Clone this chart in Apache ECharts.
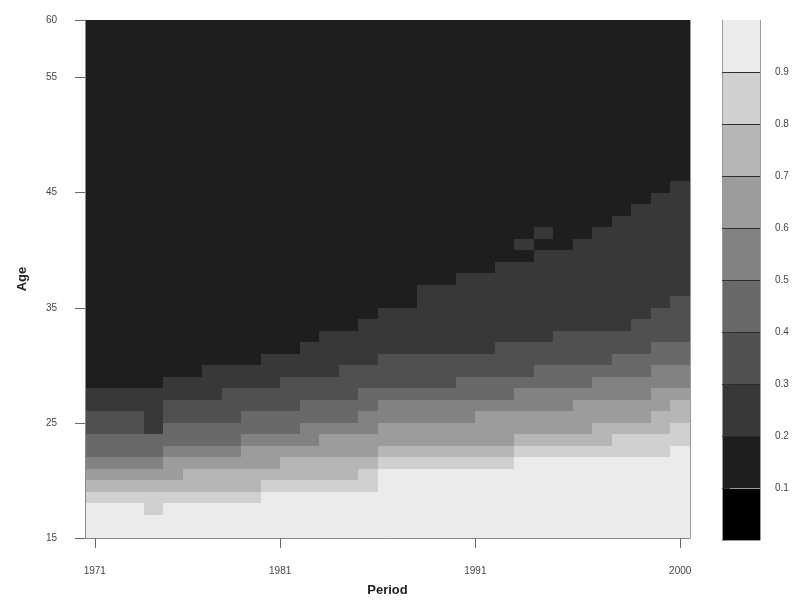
<!DOCTYPE html>
<html>
<head>
<meta charset="utf-8">
<script src="https://cdn.jsdelivr.net/npm/echarts@6/dist/echarts.min.js"></script>
<style>
  html, body { margin: 0; padding: 0; background: #ffffff; }
  #chart { width: 796px; height: 602px; }
</style>
</head>
<body>
<div id="chart"></div>
<script>
// Period columns (one per observation), positioned on a 0..31 column scale
const columnCount = 31;
const periodTickAt = [0.5, 10, 20, 30.5];
const periodTickText = ['1971', '1981', '1991', '2000'];

// Age axis
const ageMin = 15;
const ageMax = 60;
const ageTicks = [15, 25, 35, 45, 55, 60];

// Contour levels shown in the key
const levels = [0, 0.1, 0.2, 0.3, 0.4, 0.5, 0.6, 0.7, 0.8, 0.9, 1];
const levelTicks = [0.1, 0.2, 0.3, 0.4, 0.5, 0.6, 0.7, 0.8, 0.9];
const greys = ['#000000', '#1e1e1e', '#383838', '#505050', '#696969',
               '#828282', '#9c9c9c', '#b6b6b6', '#d0d0d0', '#ebebeb'];

// For each period column: first age at which the proportion drops below the level
const below90 = [18,18,18,18,18,18,18,18,18,19,19,19,19,19,19,21,21,21,21,21,21,21,22,22,22,22,22,22,22,22,23];
const below80 = [19,19,19,19,19,19,19,19,19,20,20,20,20,20,21,22,22,22,22,22,22,22,23,23,23,23,23,24,24,24,25];
const below70 = [20,20,20,20,20,21,21,21,21,21,22,22,22,22,22,23,23,23,23,23,23,23,24,24,24,24,25,25,25,26,27];
const below60 = [21,21,21,21,22,22,22,22,23,23,23,23,24,24,24,25,25,25,25,25,26,26,26,26,26,27,27,27,27,28,28];
const below50 = [22,22,22,22,23,23,23,23,24,24,24,25,25,25,26,27,27,27,27,27,27,27,28,28,28,28,29,29,29,30,30];
const below40 = [24,24,24,24,25,25,25,25,26,26,26,27,27,27,28,28,28,28,28,29,29,29,29,30,30,30,30,31,31,32,32];
const below30 = [26,26,26,26,27,27,27,28,28,28,29,29,29,30,30,31,31,31,31,31,32,32,32,32,33,33,33,33,34,35,36];
const below20 = [28,28,28,28,29,29,30,30,30,31,31,32,33,33,34,35,35,37,37,38,38,39,39,40,40,41,42,43,44,45,46];

// Single cells that break the staircase: [column, age, band]
const islands = [[3, 17, 8], [3, 24, 2], [3, 25, 2], [20, 31, 2], [22, 40, 2], [23, 41, 2]];

// Build one rectangle per (column, band) run: [column, ageLow, ageHigh, band]
const cells = [];
for (let k = 0; k < columnCount; k++) {
  const edges = [ageMin, below90[k], below80[k], below70[k], below60[k],
                 below50[k], below40[k], below30[k], below20[k], ageMax];
  for (let j = 0; j < edges.length - 1; j++) {
    if (edges[j + 1] > edges[j]) cells.push([k, edges[j], edges[j + 1], 9 - j]);
  }
}
islands.forEach(function (c) { cells.push([c[0], c[1], c[1] + 1, c[2]]); });

// Key blocks: [levelLow, levelHigh, band]
const keyBlocks = [];
for (let b = 0; b < levels.length - 1; b++) keyBlocks.push([levels[b], levels[b + 1], b]);

const chart = echarts.init(document.getElementById('chart'), null, { renderer: 'canvas' });

// Rectangles snapped to whole pixels so neighbouring cells meet without seams
function snappedRect(p0, p1, fill) {
  const x0 = Math.round(p0[0]), x1 = Math.round(p1[0]);
  const y0 = Math.round(p1[1]), y1 = Math.round(p0[1]);
  return {
    type: 'rect',
    shape: { x: x0, y: y0, width: x1 - x0, height: y1 - y0 },
    style: { fill: fill, stroke: null },
    z2: 1
  };
}

function cellRect(params, api) {
  const c = api.value(0), lo = api.value(1), hi = api.value(2), b = api.value(3);
  return snappedRect(api.coord([c, lo]), api.coord([c + 1, hi]), greys[b]);
}

function keyRect(params, api) {
  const lo = api.value(0), hi = api.value(1), b = api.value(2);
  return snappedRect(api.coord([0, lo]), api.coord([1, hi]), greys[b]);
}

const labelFont = { fontFamily: 'Liberation Sans, Arial, sans-serif', color: '#444', fontSize: 10 };

const splitColors = levels.map(function (v, i) { return (i === 0 || i === levels.length - 1) ? '#9a9a9a' : '#2a2a2a'; });

chart.setOption({
  animation: false,
  backgroundColor: '#ffffff',
  grid: [
    { left: 85, top: 20, width: 605, height: 518 },
    { left: 722, top: 20, width: 38, height: 520 }
  ],
  xAxis: [
    {
      gridIndex: 0, type: 'value', min: 0, max: columnCount, interval: 1, z: 10,
      name: 'Period', nameLocation: 'middle', nameGap: 46,
      nameTextStyle: { fontFamily: 'Liberation Sans, Arial, sans-serif', fontWeight: 'bold', fontSize: 13, color: '#222' },
      axisLine: { show: true, lineStyle: { color: '#8a8a8a', width: 1 } },
      axisTick: { show: true, length: 10, customValues: periodTickAt, lineStyle: { color: '#666' } },
      axisLabel: Object.assign({ margin: 28, customValues: periodTickAt,
        formatter: function (v) { const i = periodTickAt.indexOf(v); return i >= 0 ? periodTickText[i] : ''; } }, labelFont),
      splitLine: { show: false }
    },
    {
      gridIndex: 1, type: 'value', min: 0, max: 1, interval: 1, z: 10,
      axisLine: { show: true, lineStyle: { color: '#9a9a9a' } },
      axisTick: { show: false }, axisLabel: { show: false },
      splitLine: { show: true, lineStyle: { color: '#9a9a9a', width: 1 } }
    }
  ],
  yAxis: [
    {
      gridIndex: 0, type: 'value', min: ageMin, max: ageMax, interval: 5, z: 10,
      name: 'Age', nameLocation: 'middle', nameGap: 56, nameRotate: 90,
      nameTextStyle: { fontFamily: 'Liberation Sans, Arial, sans-serif', fontWeight: 'bold', fontSize: 13, color: '#222' },
      axisLine: { show: true, lineStyle: { color: '#8a8a8a', width: 1 } },
      axisTick: { show: true, length: 10, customValues: ageTicks, lineStyle: { color: '#666' } },
      axisLabel: Object.assign({ margin: 28, customValues: ageTicks }, labelFont),
      splitLine: { show: false }
    },
    {
      gridIndex: 0, type: 'value', min: ageMin, max: ageMax, position: 'right', z: 10,
      axisLine: { show: true, lineStyle: { color: '#9a9a9a', width: 1 } },
      axisTick: { show: false }, axisLabel: { show: false }, splitLine: { show: false }
    },
    {
      gridIndex: 1, type: 'value', min: 0, max: 1, interval: 0.1, position: 'right', z: 10,
      axisLine: { show: true, lineStyle: { color: '#9a9a9a' } },
      axisTick: { show: true, length: 8, customValues: levelTicks, lineStyle: { color: '#333' } },
      axisLabel: Object.assign({}, labelFont, { fontSize: 10, margin: 15, customValues: levelTicks,
        formatter: function (v) { return v.toFixed(1); } }),
      splitLine: { show: true, lineStyle: { color: splitColors, width: 1 } }
    }
  ],
  series: [
    {
      type: 'custom', xAxisIndex: 0, yAxisIndex: 0,
      renderItem: cellRect, data: cells, encode: { x: 0, y: [1, 2] }, silent: true
    },
    {
      type: 'custom', xAxisIndex: 1, yAxisIndex: 2,
      renderItem: keyRect, data: keyBlocks, encode: { y: [0, 1] }, silent: true
    }
  ]
});
</script>
</body>
</html>
